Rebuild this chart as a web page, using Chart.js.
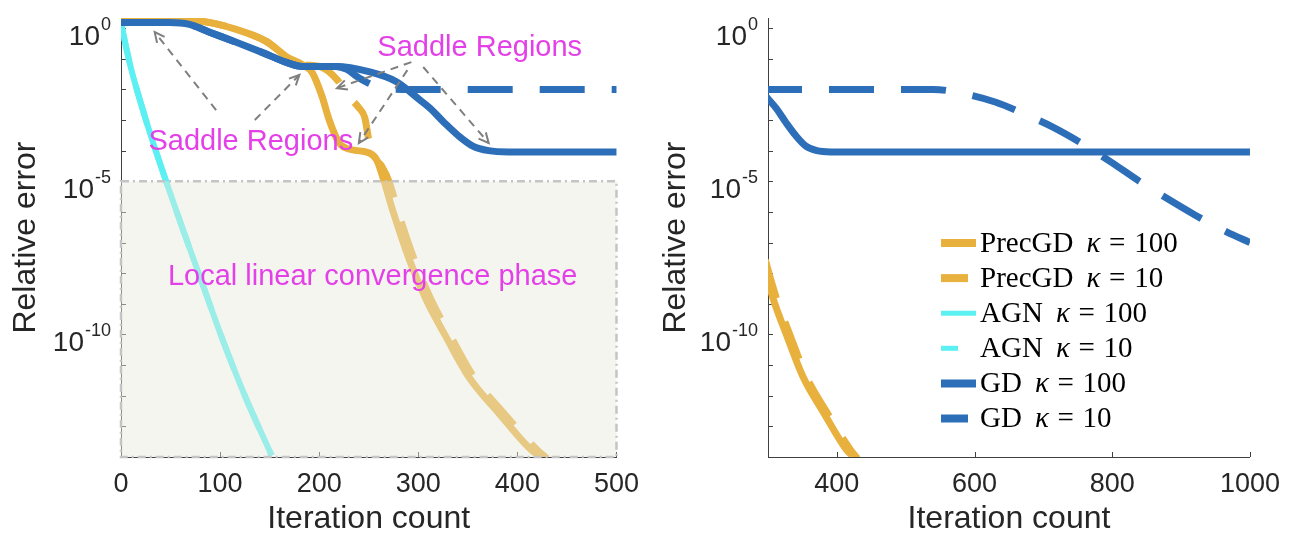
<!DOCTYPE html>
<html>
<head>
<meta charset="utf-8">
<script src="https://cdn.jsdelivr.net/npm/chart.js@4.4.0/dist/chart.umd.min.js"></script>
<style>
  html, body { margin: 0; padding: 0; background: #fff; }
  #wrap { position: relative; width: 1291px; height: 535px; overflow: hidden; }
  #leftBox { position: absolute; left: 0; top: 0; width: 650px; height: 535px; }
  #rightBox { position: absolute; left: 650px; top: 0; width: 641px; height: 535px; }
</style>
</head>
<body>
<div id="wrap">
  <div id="leftBox"><canvas id="left" width="650" height="535"></canvas></div>
  <div id="rightBox"><canvas id="right" width="641" height="535"></canvas></div>
</div>
<script>
// ---- data: iteration count and log10(relative error) ----
const precgd100Iter = [0, 60, 82, 117, 147, 167, 183, 193, 203, 210, 220, 233, 250, 258, 266, 274, 291, 308, 328, 351, 381, 414, 422];
const precgd100Log  = [0.25, 0.25, 0.22, -0.05, -0.44, -0.93, -1.19, -1.45, -2.24, -2.99, -3.74, -3.97, -4.07, -4.3, -5.05, -5.93, -7.56, -8.87, -10.08, -11.39, -12.56, -13.77, -13.95];

const precgd10Iter = [0, 60, 82, 117, 147, 167, 183, 200, 218, 228, 240, 246, 250, 254, 263, 271, 279, 296, 313, 333, 356, 386, 420, 430];
const precgd10Log  = [0.25, 0.25, 0.22, -0.05, -0.44, -0.93, -1.19, -1.25, -1.68, -2.17, -2.6, -2.92, -3.64, -4.13, -4.5, -5.05, -5.93, -7.56, -8.87, -10.08, -11.39, -12.56, -13.77, -14.05];

const agnIter   = [0, 5, 10, 20, 30, 46, 63, 80, 100, 125, 152];
const agn100Log = [0.18, -0.6, -1.3, -2.45, -3.5, -5.05, -6.62, -8.15, -9.95, -12.0, -13.95];
const agn10Log  = [0.18, -0.6, -1.3, -2.45, -3.5, -5.05, -6.62, -8.15, -9.95, -12.0, -13.95];

const gd100Iter = [0, 49, 69, 90, 117, 143, 167, 183, 217, 250, 278, 301, 312, 326, 340, 355, 371, 391, 1000];
const gd100Log  = [0.18, 0.18, 0.12, -0.14, -0.47, -0.8, -1.12, -1.25, -1.25, -1.42, -1.75, -2.33, -2.62, -3.08, -3.5, -3.85, -4.0, -4.04, -4.04];

const gd10Iter = [0, 49, 69, 90, 117, 143, 167, 183, 217, 228, 240, 261, 284, 540, 590, 631, 672, 713, 755, 800, 838, 875, 920, 966, 1000];
const gd10Log  = [0.18, 0.18, 0.12, -0.14, -0.47, -0.8, -1.12, -1.25, -1.25, -1.35, -1.62, -1.94, -2.0, -2.0, -2.17, -2.42, -2.8, -3.22, -3.75, -4.4, -4.98, -5.5, -6.1, -6.65, -7.0];

const yTickExps  = [0, -1, -2, -3, -4, -5, -6, -7, -8, -9, -10, -11, -12, -13, -14];
const yLabelExps = [0, -5, -10];
const leftXTicks  = [0, 100, 200, 300, 400, 500];
const rightXTicks = [400, 600, 800, 1000];

// annotations on the left panel (iteration, log10 error)
const noteTexts = [
  { text: 'Saddle Regions', x: 362, log: -0.65 },
  { text: 'Saddle Regions', x: 131, log: -3.72 },
  { text: 'Local linear convergence phase', x: 254, log: -8.13 }
];
const noteArrows = [
  [96, -2.68, 34, -0.13],
  [135, -3.0, 180, -1.53],
  [293, -1.11, 218, -1.96],
  [289, -1.37, 240, -3.75],
  [305, -1.27, 371, -3.75]
];
const phaseBox = { x0: 0, x1: 500, logTop: -5, logBottom: -14 };

// ---- styles ----
const ORANGE = '#E8B03C';
const CYAN = '#5CF0F2';
const BLUE = '#2D6EB8';
const SANS = '"Liberation Sans", Arial, Helvetica, sans-serif';
const SERIF = '"Liberation Serif", "Times New Roman", serif';
const INK = '#262626';
const MAGENTA = '#E440E8';

function series(iters, logs) {
  return iters.map((x, i) => ({ x, y: Math.pow(10, logs[i]) }));
}

function makeDatasets() {
  const base = { pointRadius: 0, fill: false, cubicInterpolationMode: 'monotone',
                 borderCapStyle: 'butt', borderJoinStyle: 'round' };
  return [
    { label: 'PrecGD κ = 100', data: series(precgd100Iter, precgd100Log), borderColor: ORANGE, borderWidth: 7, order: 5 },
    { label: 'PrecGD κ = 10', data: series(precgd10Iter, precgd10Log), borderColor: ORANGE, borderWidth: 7, borderDash: [40, 25], order: 4 },
    { label: 'AGN κ = 100', data: series(agnIter, agn100Log), borderColor: CYAN, borderWidth: 6, order: 3 },
    { label: 'AGN κ = 10', data: series(agnIter, agn10Log), borderColor: CYAN, borderWidth: 6, borderDash: [40, 25], order: 2, legendDash: 17 },
    { label: 'GD κ = 100', data: series(gd100Iter, gd100Log), borderColor: BLUE, borderWidth: 7, order: 1 },
    { label: 'GD κ = 10', data: series(gd10Iter, gd10Log), borderColor: BLUE, borderWidth: 7, borderDash: [45, 27], order: 0 }
  ].map(d => Object.assign({}, base, d));
}

// inner tick marks + y labels with superscripts
const axisDecor = {
  id: 'axisDecor',
  beforeDatasetsDraw(chart) {
    const { ctx, chartArea: a, scales: { x, y } } = chart;
    ctx.save();
    ctx.strokeStyle = '#404040';
    ctx.lineWidth = 1;
    ctx.beginPath();
    y.ticks.forEach(t => {
      const py = Math.round(y.getPixelForValue(t.value)) + 0.5;
      ctx.moveTo(a.left, py); ctx.lineTo(a.left + 5, py);
    });
    x.ticks.forEach(t => {
      const px = Math.round(x.getPixelForValue(t.value)) + 0.5;
      ctx.moveTo(px, a.bottom); ctx.lineTo(px, a.bottom - 5);
    });
    ctx.stroke();
    ctx.fillStyle = INK;
    ctx.textBaseline = 'alphabetic';
    ctx.textAlign = 'left';
    yLabelExps.forEach(e => {
      const py = y.getPixelForValue(Math.pow(10, e));
      const exp = String(e);
      ctx.font = '18px ' + SANS;
      const ew = ctx.measureText(exp).width;
      ctx.font = '28px ' + SANS;
      const bw = ctx.measureText('10').width;
      const right = a.left - 10;
      ctx.fillText('10', right - ew - bw - 1, py + 17);
      ctx.font = '18px ' + SANS;
      ctx.fillText(exp, right - ew, py + 2);
    });
    ctx.restore();
  }
};

function arrow(ctx, x0, y0, x1, y1) {
  ctx.setLineDash([8, 6]);
  ctx.beginPath(); ctx.moveTo(x0, y0); ctx.lineTo(x1, y1); ctx.stroke();
  ctx.setLineDash([]);
  const ang = Math.atan2(y1 - y0, x1 - x0);
  const L = 11, w = 0.45;
  ctx.beginPath();
  ctx.moveTo(x1 - L * Math.cos(ang - w), y1 - L * Math.sin(ang - w));
  ctx.lineTo(x1, y1);
  ctx.lineTo(x1 - L * Math.cos(ang + w), y1 - L * Math.sin(ang + w));
  ctx.stroke();
}

const leftNotes = {
  id: 'leftNotes',
  afterDatasetsDraw(chart) {
    const { ctx, scales: { x, y } } = chart;
    const px = v => x.getPixelForValue(v);
    const py = l => y.getPixelForValue(Math.pow(10, l));
    ctx.save();
    // shaded local-convergence region, drawn over the curves
    const bx0 = px(phaseBox.x0), bx1 = px(phaseBox.x1);
    const by0 = py(phaseBox.logTop), by1 = py(phaseBox.logBottom);
    ctx.fillStyle = 'rgba(233,233,219,0.45)';
    ctx.fillRect(bx0, by0, bx1 - bx0, by1 - by0);
    ctx.strokeStyle = '#c4c4c4';
    ctx.lineWidth = 2.5;
    ctx.setLineDash([8, 4, 2, 4]);
    ctx.strokeRect(bx0, by0, bx1 - bx0, by1 - by0);
    ctx.setLineDash([]);
    // arrows
    ctx.strokeStyle = '#7f7f7f';
    ctx.lineWidth = 2;
    noteArrows.forEach(([a, b, c, d]) => arrow(ctx, px(a), py(b), px(c), py(d)));
    // texts
    ctx.fillStyle = MAGENTA;
    ctx.textAlign = 'center';
    ctx.textBaseline = 'middle';
    noteTexts.forEach(n => {
      ctx.font = '29px ' + SANS;
      ctx.fillText(n.text, px(n.x), py(n.log));
    });
    ctx.restore();
  }
};

const rightLegend = {
  id: 'rightLegend',
  afterDraw(chart) {
    const { ctx } = chart;
    const x0 = 291, x1 = 326, tx = 330, y0 = 243, step = 35.1;
    ctx.save();
    chart.data.datasets.forEach((d, i) => {
      const yy = y0 + i * step;
      ctx.strokeStyle = d.borderColor;
      ctx.lineWidth = d.borderColor === CYAN ? 5 : 8;
      const len = d.borderDash ? (d.legendDash || 27) : (x1 - x0);
      ctx.beginPath(); ctx.moveTo(x0, yy); ctx.lineTo(x0 + len, yy); ctx.stroke();
      // label with italic kappa
      const [pre, post] = d.label.split('κ');
      const size = 29;
      let cx = tx;
      ctx.fillStyle = '#000';
      ctx.textBaseline = 'middle';
      ctx.textAlign = 'left';
      ctx.font = size + 'px ' + SERIF;
      ctx.fillText(pre.trim(), cx, yy + 1);
      cx += ctx.measureText(pre.trim()).width + size * 0.45;
      ctx.font = 'italic ' + size + 'px ' + SERIF;
      ctx.fillText('κ', cx, yy + 1);
      cx += ctx.measureText('κ').width + size * 0.3;
      ctx.font = size + 'px ' + SERIF;
      ctx.fillText('=', cx, yy + 1);
      cx += ctx.measureText('=').width + size * 0.3;
      ctx.fillText(post.replace('=', '').trim(), cx, yy + 1);
    });
    ctx.restore();
  }
};

function makeChart(id, xMin, xMax, xTicks, yAxisWidth, padRight, titlePad, plugins) {
  return new Chart(document.getElementById(id), {
    type: 'line',
    data: { datasets: makeDatasets() },
    options: {
      responsive: false,
      animation: false,
      events: [],
      layout: { padding: { left: 0, right: padRight, top: 18, bottom: 0 } },
      plugins: { legend: { display: false }, tooltip: { enabled: false } },
      scales: {
        x: {
          type: 'linear', min: xMin, max: xMax,
          afterBuildTicks: s => { s.ticks = xTicks.map(v => ({ value: v })); },
          afterFit: s => { s.height = 78; },
          grid: { display: false, drawTicks: false },
          border: { display: true, color: '#404040', width: 1 },
          ticks: { font: { family: SANS, size: 27 }, color: INK, padding: 11, maxRotation: 0, autoSkip: false,
                   callback: v => String(v) },
          title: { display: true, text: 'Iteration count', font: { family: SANS, size: 32 }, color: INK, padding: { top: 0, bottom: -3 } }
        },
        y: {
          type: 'logarithmic', min: 1e-14, max: 2.14,
          afterBuildTicks: s => { s.ticks = yTickExps.map(e => ({ value: Math.pow(10, e) })); },
          afterFit: s => { s.width = yAxisWidth; },
          grid: { display: false, drawTicks: false },
          border: { display: true, color: '#404040', width: 1 },
          ticks: { display: false },
          title: { display: true, text: 'Relative error', font: { family: SANS, size: 32 }, color: INK, padding: { top: titlePad, bottom: 0 } }
        }
      }
    },
    plugins: plugins
  });
}

makeChart('left', 0, 500, leftXTicks, 121, 32, 7, [axisDecor, leftNotes]);
makeChart('right', 300, 1000, rightXTicks, 118, 34, 7, [axisDecor, rightLegend]);
</script>
</body>
</html>
